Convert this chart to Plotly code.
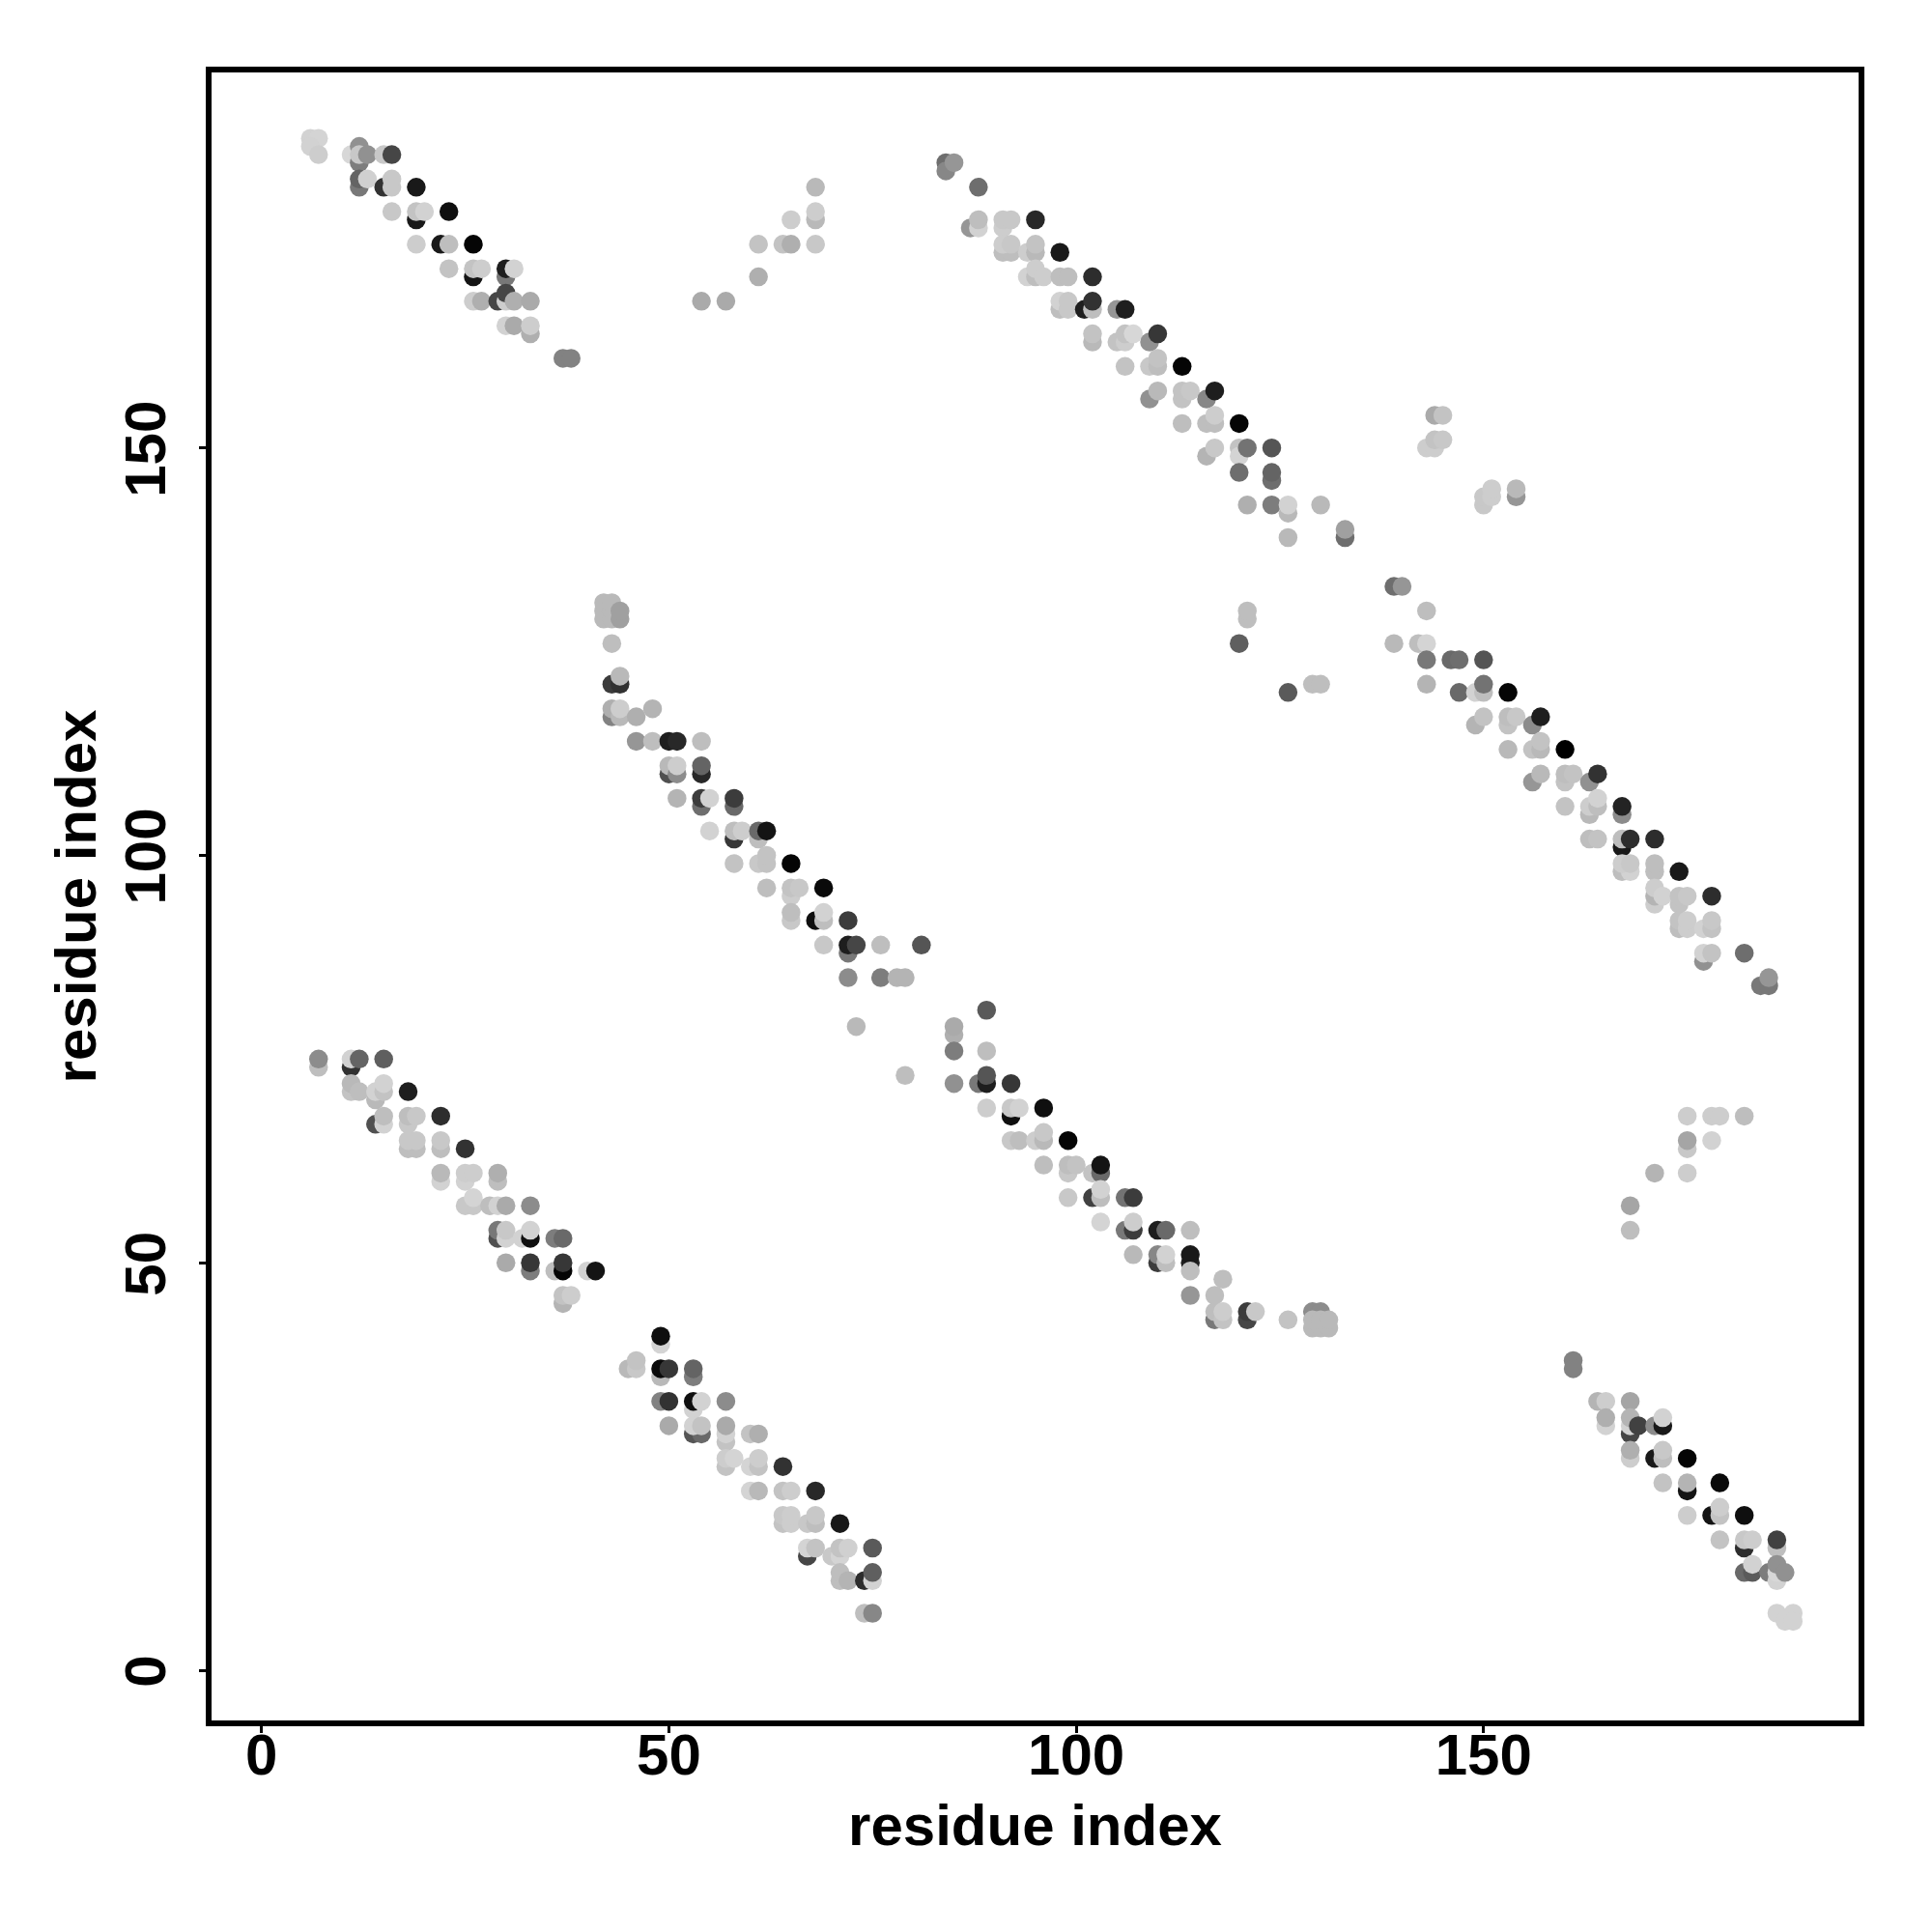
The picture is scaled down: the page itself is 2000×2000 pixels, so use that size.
import plotly.graph_objects as go

# Each entry: residue x, residue y, gray level (0 = black, 255 = white)
top_left = [
(6,188,210),(7,188,212),(6,187,210),(7,186,205),(11,186,215),(12,185,125),(12,187,145),(12,186,200),(13,186,145),
(15,186,200),(16,186,70),(12,182,120),(12,183,100),(13,183,208),(15,182,50),(16,182,200),(16,183,200),(19,182,25),
(16,179,200),(19,178,25),(19,179,195),(20,179,210),(23,179,15),(19,175,205),(22,175,25),(23,175,190),(26,175,5),
(23,172,195),(26,171,20),(26,172,195),(27,172,205),(30,171,120),(30,172,30),(31,172,210),(26,168,205),(27,168,175),
(29,168,70),(30,168,205),(30,169,70),(31,168,175),(33,168,170),(30,165,210),(31,165,170),(33,164,175),(33,165,205),
(37,161,130),(38,161,130),
]
top_mid = [
(54,168,170),(57,168,170),(61,171,175),(61,175,195),(64,175,195),(65,175,175),(65,178,205),(68,175,200),(68,178,185),
(68,179,205),(68,182,185),
]
top_right = [
(84,185,110),(84,184,135),(85,185,150),(88,182,110),(87,177,150),(88,177,210),(88,178,190),(91,177,205),(91,178,200),
(92,178,200),(95,178,40),(91,174,190),(92,174,190),(91,175,205),(92,175,200),(94,174,205),(95,174,185),(95,175,195),
(98,174,25),(94,171,210),(95,171,190),(95,172,205),(96,171,205),(98,171,190),(99,171,190),(102,171,45),(98,167,190),
(98,168,210),(99,167,200),(99,168,200),(101,167,30),(102,167,190),(102,168,50),(105,167,150),(106,167,30),(102,163,185),
(102,164,195),(105,163,195),(106,163,205),(106,164,195),(107,164,215),(109,163,145),(110,164,55),(106,160,195),(109,160,200),
(110,160,190),(110,161,195),(113,160,5),(109,156,145),(110,157,185),(113,156,195),(113,157,195),(114,157,200),(116,156,135),
(117,157,30),(113,153,190),(116,153,190),(117,153,190),(117,154,205),(120,153,5),(116,149,180),(117,150,200),(120,150,195),
(120,149,212),(121,150,115),(124,150,85),(120,147,110),(124,146,110),(124,147,100),(121,143,175),(124,143,125),(126,142,185),
(126,143,210),(130,143,185),(126,139,185),(133,139,110),(133,140,160),
]
right_upper = [
(144,154,170),(145,154,195),(143,150,205),(144,150,205),(144,151,195),(145,151,200),(150,143,200),(150,144,200),(151,144,205),
(151,145,205),(154,144,150),(154,145,185),(120,126,95),(121,129,190),(121,130,190),(126,120,90),(129,121,190),(130,121,190),
]
center = [
(42,129,185),(42,130,185),(42,131,185),(43,129,185),(43,130,185),(43,131,185),(44,129,160),(44,130,160),(43,126,190),
(43,121,60),(44,121,50),(44,122,185),(43,117,130),(43,118,175),(44,117,185),(44,118,205),(46,117,175),(48,118,180),
(46,114,150),(48,114,190),(50,114,30),(51,114,40),(54,114,190),(50,110,80),(50,111,185),(51,110,140),(51,111,205),
(54,110,40),(54,111,100),(51,107,180),(54,106,110),(54,107,60),(55,107,210),(58,106,105),(58,107,60),(55,103,210),
(58,102,55),(58,103,190),(59,103,205),(61,102,190),(61,103,105),(62,103,20),(58,99,195),(61,99,200),(62,99,195),
(62,100,195),(65,99,5),(62,96,190),(65,95,205),(65,96,195),(66,96,200),(69,96,10),(65,92,200),(65,93,190),
(68,92,15),(69,92,190),(69,93,210),(72,92,60),(69,89,200),(72,88,120),(72,89,30),(73,89,70),(76,89,190),
(81,89,85),(72,85,140),(76,85,125),(78,85,180),(79,85,180),(73,79,185),(79,73,190),
]
right_diag = [
(139,133,110),(140,133,150),(143,130,190),(139,126,185),(142,126,190),(143,126,212),(143,124,120),(146,124,105),(147,124,110),
(150,124,85),(143,121,180),(147,120,105),(149,120,210),(150,120,190),(150,121,115),(153,120,5),(149,116,180),(150,117,195),
(153,116,195),(153,117,190),(154,117,200),(156,116,140),(157,117,30),(153,113,185),(156,113,195),(157,113,185),(157,114,195),
(160,113,0),(156,109,150),(157,110,185),(160,109,195),(160,110,190),(161,110,195),(163,109,145),(164,110,50),(160,106,195),
(163,105,185),(163,106,205),(164,106,190),(164,107,210),(167,105,140),(167,106,35),(163,102,190),(164,102,195),(167,101,25),
(167,102,190),(168,102,45),(171,102,45),(167,98,190),(168,98,210),(167,99,205),(168,99,200),(171,98,190),(171,99,190),
(174,98,25),(171,94,205),(171,95,180),(171,96,205),(172,95,210),(174,94,195),(174,95,195),(175,95,200),(178,95,45),
(174,91,190),(174,92,195),(175,91,205),(175,92,205),(177,91,210),(178,91,195),(178,92,200),(177,87,145),(177,88,210),
(178,88,195),(182,88,110),(184,84,120),(185,84,120),(185,85,150),
]
lower_left = [
(7,74,190),(7,75,140),(11,74,50),(11,75,210),(12,75,100),(15,75,95),(11,71,195),(11,72,185),(12,71,190),
(14,70,185),(14,71,210),(15,71,195),(15,72,210),(18,71,30),(14,67,80),(15,67,210),(15,68,190),(18,67,200),
(18,68,190),(19,68,200),(22,68,45),(18,64,190),(19,64,190),(18,65,200),(19,65,200),(22,64,190),(22,65,200),
(25,64,50),(22,60,210),(22,61,185),(25,60,210),(25,61,205),(26,61,205),(29,60,190),(29,61,175),(25,57,200),
(26,57,200),(26,58,212),(28,57,190),(29,57,210),(30,57,170),(33,57,140),(29,53,80),(29,54,120),(30,53,210),
(30,54,200),(32,53,210),(33,53,15),(33,54,210),(36,53,125),(37,53,105),(30,50,170),(33,49,125),(33,50,55),
(36,49,190),(37,49,5),(37,50,55),(40,49,210),(41,49,20),(37,45,180),(37,46,195),(38,46,205),
]
lower_mid = [
(49,40,212),(49,41,15),(45,37,185),(46,37,200),(46,38,195),(49,36,185),(49,37,10),(50,37,55),(53,36,125),
(53,37,100),(49,33,130),(50,33,50),(53,32,210),(53,33,15),(54,33,210),(57,33,140),(50,30,170),(53,29,85),
(54,29,105),(53,30,210),(54,30,195),(57,28,195),(57,29,210),(57,30,170),(60,29,195),(61,29,175),(57,25,195),
(57,26,205),(58,26,212),(60,25,212),(61,25,195),(61,26,205),(64,25,50),(60,22,212),(61,22,185),(64,22,195),
(65,22,205),(68,22,40),(64,18,195),(64,19,200),(65,18,205),(65,19,205),(67,18,200),(68,18,190),(68,19,200),
(71,18,25),(67,14,70),(67,15,212),(68,15,195),(70,14,200),(71,14,212),(71,15,195),(72,15,208),(75,15,90),
(71,11,190),(71,12,190),(72,11,180),(74,11,45),(75,11,210),(75,12,95),(74,7,190),(75,7,135),
]
mid_diag = [
(89,81,90),(85,78,175),(85,79,170),(85,76,125),(89,76,190),(85,72,145),(88,72,120),(89,72,30),(89,73,85),
(92,72,55),(89,69,205),(92,68,15),(92,69,200),(93,69,210),(96,69,15),(92,65,200),(93,65,190),(95,65,205),
(96,65,185),(96,66,200),(99,65,5),(96,62,190),(99,61,200),(99,62,190),(100,62,195),(102,61,195),(103,61,105),
(103,62,20),(99,58,200),(102,58,65),(103,58,190),(103,59,210),(106,58,115),(107,58,60),(103,55,212),(106,54,120),
(107,54,60),(107,55,205),(110,54,30),(111,54,105),(114,54,190),(107,51,185),(110,50,60),(110,51,135),(111,50,190),
(111,51,210),(114,50,30),(114,51,25),(114,49,190),(114,46,150),(117,46,190),(118,48,190),(117,43,120),(117,44,190),
(118,43,195),(118,44,205),(121,43,70),(121,44,60),(122,44,200),(126,43,195),(129,44,140),(130,44,140),(129,42,185),
(130,42,185),(131,42,185),(129,43,185),(130,43,185),(131,43,185),
]
lower_right_upper = [
(168,54,190),(168,57,165),(171,61,180),(175,61,205),(175,64,200),(175,65,165),(175,68,205),(178,65,210),(178,68,205),
(179,68,205),(182,68,190),
]
lower_right = [
(161,38,130),(161,37,130),(164,33,180),(165,33,205),(165,30,210),(165,31,175),(168,33,165),(168,29,70),(168,30,210),
(168,31,180),(169,30,65),(171,30,140),(172,30,25),(172,31,210),(168,26,205),(168,27,175),(171,26,25),(172,26,190),
(172,27,200),(175,26,5),(172,23,195),(175,22,20),(175,23,180),(179,23,10),(175,19,205),(178,19,20),(179,19,195),
(179,20,205),(182,19,15),(179,16,195),(182,15,45),(182,16,200),(183,16,205),(186,15,190),(186,16,65),(182,12,105),
(183,12,90),(183,13,210),(185,12,125),(186,11,210),(186,12,215),(186,13,145),(187,12,145),(186,7,210),(187,6,210),
(188,7,210),(188,6,210),
]
blocks = [top_left, top_mid, top_right, right_upper, center, right_diag, lower_left,
          lower_mid, mid_diag, lower_right_upper, lower_right]

tick_values = [0, 50, 100, 150]
axis_title = "residue index"
x_range = [-6.13, 196.03]
y_range = [-6.16, 196.08]

FONT = "Liberation Sans"
fig = go.Figure()
for block in blocks:
    fig.add_trace(go.Scatter(
        x=[p[0] for p in block],
        y=[p[1] for p in block],
        mode="markers",
        marker=dict(size=19.5, color=[f"rgb({p[2]},{p[2]},{p[2]})" for p in block], line=dict(width=0)),
        showlegend=False,
        hoverinfo="x+y",
    ))

common = dict(
    tickmode="array", tickvals=tick_values,
    ticktext=[str(v) for v in tick_values],
    showgrid=False, zeroline=False, showline=True, mirror=True,
    linecolor="black", linewidth=5.5, ticks="outside", ticklen=7, tickwidth=3,
    tickcolor="black", tickfont=dict(family=FONT, size=60, color="black", weight="bold"),
)
title_font = dict(family=FONT, size=60, color="black", weight="bold")
fig.update_layout(
    width=2000, height=2000, autosize=False,
    paper_bgcolor="white", plot_bgcolor="white",
    margin=dict(l=211, r=84.15, t=67.45, b=227, pad=0),
    xaxis=dict(range=x_range, ticklabelstandoff=-29,
               title=dict(text=axis_title, font=title_font, standoff=21), **common),
    yaxis=dict(range=y_range, ticklabelstandoff=11, ticklabelshift=10, tickangle=-90,
               title=dict(text=axis_title, font=title_font, standoff=0), **common),
)
fig.write_html("out.html")
